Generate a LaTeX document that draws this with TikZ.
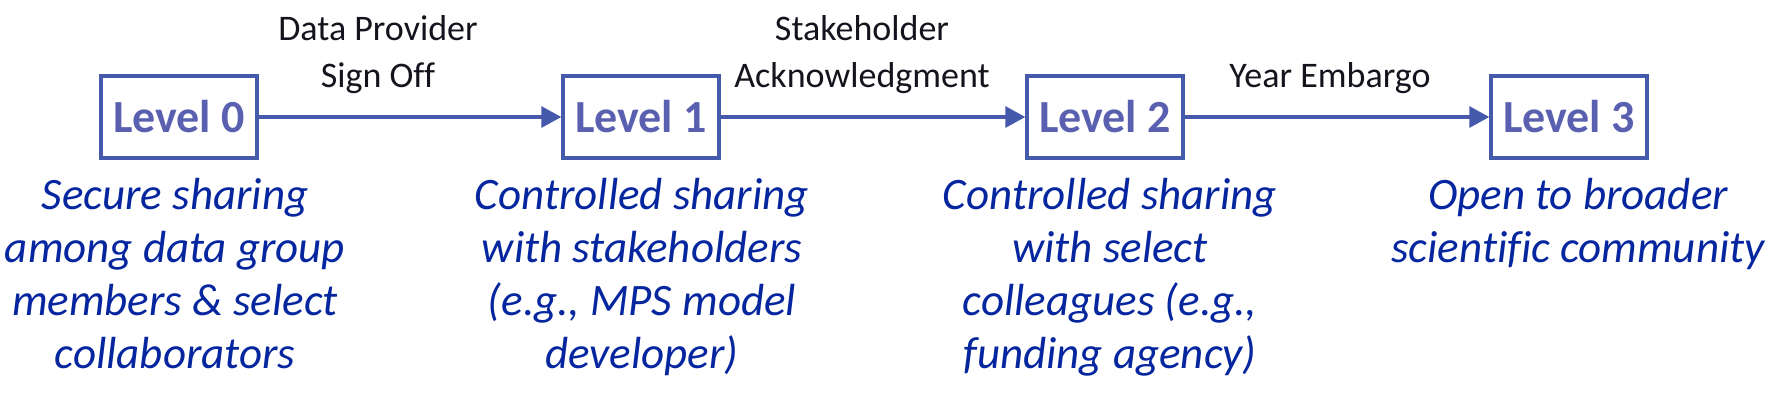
\documentclass[tikz,border=0pt]{standalone}
\usepackage{fontspec}
\setmainfont{Carlito}[Ligatures=CommonOff]
\usetikzlibrary{arrows.meta}
\definecolor{boxblue}{RGB}{70,90,172}
\definecolor{lvltext}{RGB}{90,96,176}
\definecolor{desc}{RGB}{5,38,158}
\definecolor{lbl}{RGB}{20,20,30}
\begin{document}
\begin{tikzpicture}[x=0.5pt,y=-0.5pt,
 levelbox/.style={draw=boxblue,line width=1.7pt,minimum width=78pt,minimum height=41pt,inner sep=0pt,text=lvltext,font=\fontsize{23}{27}\selectfont\bfseries},
 desctext/.style={align=center,text=desc,font=\fontsize{22.5}{26.5}\selectfont\itshape,inner sep=0pt,anchor=north},
 flow/.style={draw=boxblue,line width=1.6pt,-{Triangle[length=10pt,width=10.5pt]}},
 lbltext/.style={align=center,text=lbl,font=\fontsize{18}{23.5}\selectfont,inner sep=0pt,anchor=south}]
\useasboundingbox (0,0) rectangle (1767,419);
\node[levelbox] (l0) at (179,117) {Level 0};
\node[levelbox] (l1) at (641,117) {Level 1};
\node[levelbox] (l2) at (1105,117) {Level 2};
\node[levelbox] (l3) at (1569,117) {Level 3};
\draw[flow] (l0) -- (l1);
\draw[flow] (l1) -- (l2);
\draw[flow] (l2) -- (l3);
\node[lbltext] (t01) at (378,94) {Data Provider\\Sign Off};
\node[lbltext] (t12) at (862,94) {Stakeholder\\Acknowledgment};
\node[lbltext] (t23) at (1330,94) {Year Embargo};
\node[desctext] (d0) at (175,178) {Secure sharing\\among data group\\members \& select\\collaborators};
\node[desctext] (d1) at (642,178) {Controlled sharing\\with stakeholders\\(e.g., MPS model\\developer)};
\node[desctext] (d2) at (1110,178) {Controlled sharing\\with select\\colleagues (e.g.,\\funding agency)};
\node[desctext] (d3) at (1578,178) {Open to broader\\scientific community};
\end{tikzpicture}
\end{document}
